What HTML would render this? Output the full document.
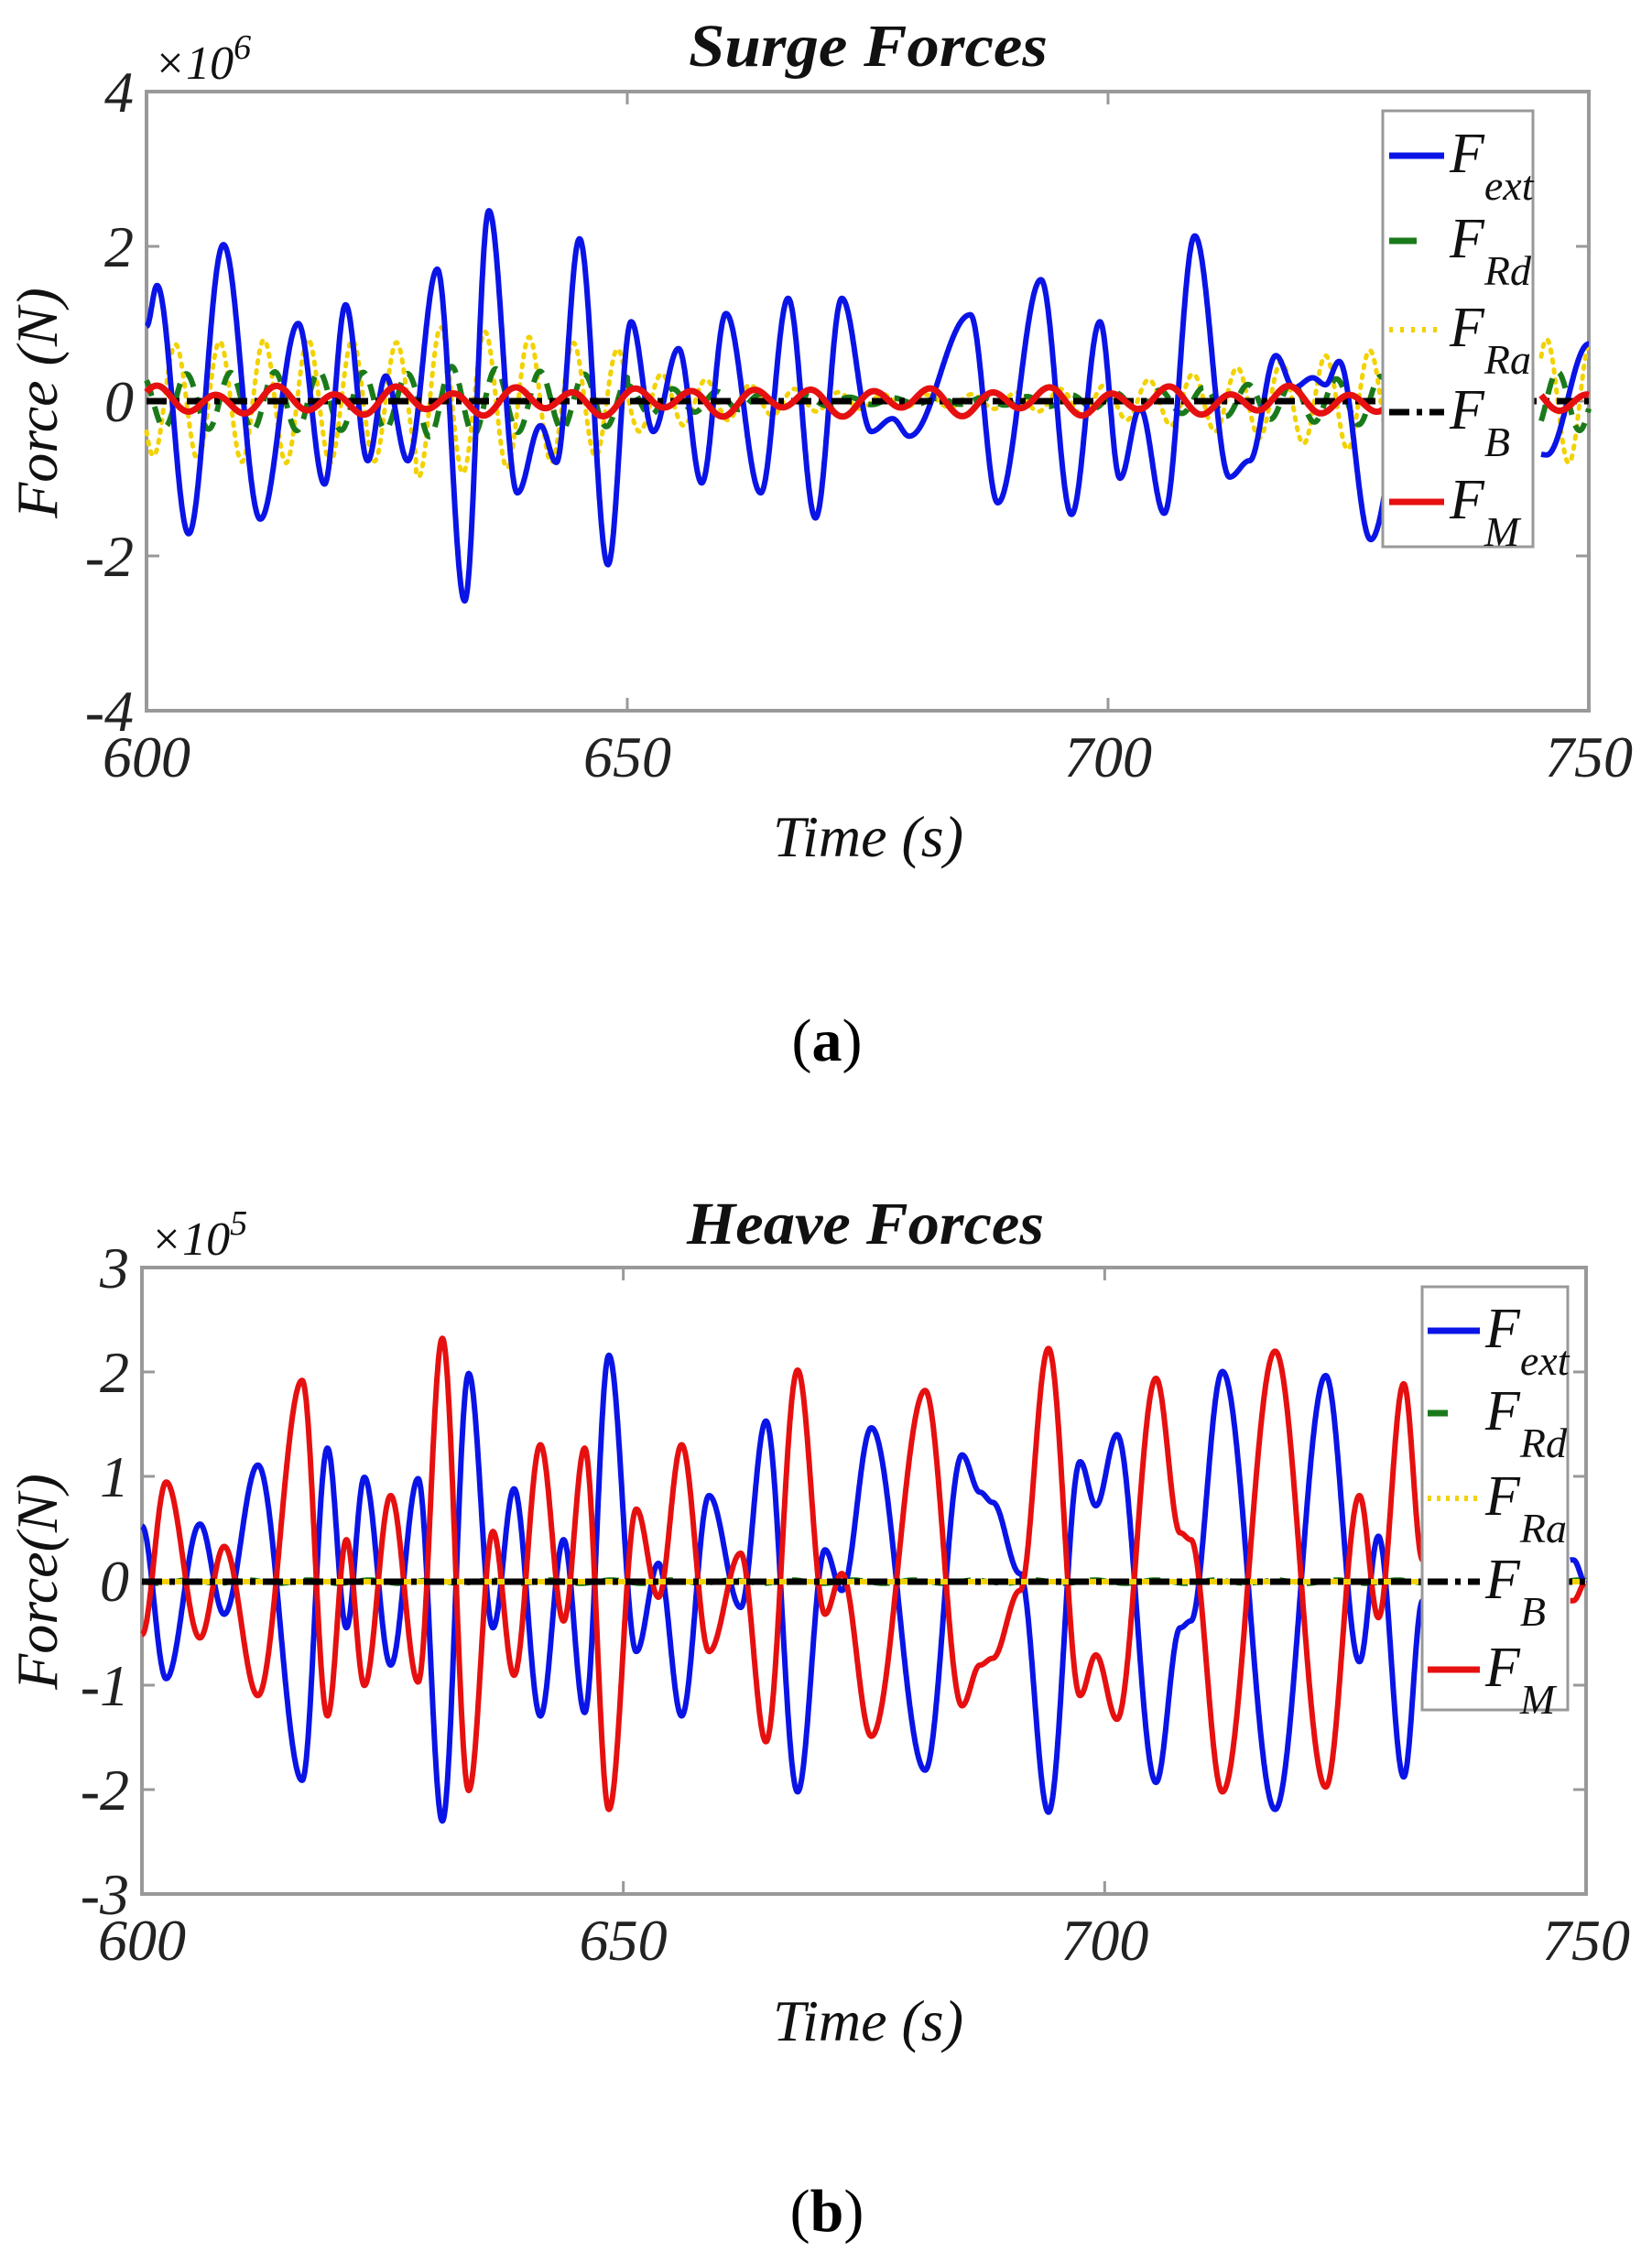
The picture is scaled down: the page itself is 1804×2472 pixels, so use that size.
<!DOCTYPE html>
<html><head><meta charset="utf-8"><style>
html,body{margin:0;padding:0;background:#fff;}
svg{display:block;}
text{font-family:"Liberation Serif",serif;}
</style></head><body>
<svg id="s" width="1804" height="2472" xmlns="http://www.w3.org/2000/svg">
<rect width="1804" height="2472" fill="#fff"/>
<g id="A"></g>
<g id="B"></g>
<g font-style="italic" fill="#111">
<text x="752" y="72" font-weight="bold" font-size="66" textLength="392" lengthAdjust="spacingAndGlyphs">Surge  Forces</text>
<text x="168" y="86" font-size="52">×10<tspan dy="-22" font-size="38">6</tspan></text>
<text x="948" y="935" text-anchor="middle" font-size="64">Time (s)</text>
<text transform="translate(62,440) rotate(-90)" text-anchor="middle" font-size="64">Force (N)</text>

<text x="750" y="1358" font-weight="bold" font-size="66" textLength="390" lengthAdjust="spacingAndGlyphs">Heave  Forces</text>
<text x="164" y="1370" font-size="52">×10<tspan dy="-22" font-size="38">5</tspan></text>
<text x="948" y="2228" text-anchor="middle" font-size="64">Time (s)</text>
<text transform="translate(62,1727) rotate(-90)" text-anchor="middle" font-size="64">Force(N)</text>
</g>
<text x="903" y="1158" text-anchor="middle" font-size="66" fill="#000">(<tspan font-weight="bold">a</tspan>)</text>
<text x="903" y="2436" text-anchor="middle" font-size="66" fill="#000">(<tspan font-weight="bold">b</tspan>)</text>
</svg>
<script>
var NS="http://www.w3.org/2000/svg";
function el(p,n,a,txt){var e=document.createElementNS(NS,n);for(var k in a)e.setAttribute(k,a[k]);if(txt!==undefined)e.textContent=txt;p.appendChild(e);return e;}
function cosInterp(pts,t){
  if(t<=pts[0][0])return pts[0][1];
  for(var i=0;i<pts.length-1;i++){var a=pts[i],b=pts[i+1];if(t<=b[0]){var s=(t-a[0])/(b[0]-a[0]);return a[1]+(b[1]-a[1])*(1-Math.cos(Math.PI*s))/2;}}
  return pts[pts.length-1][1];}
function axes(g,L,R,T,B,yt){
  el(g,"rect",{x:L,y:T,width:R-L,height:B-T,fill:"none",stroke:"#999",'stroke-width':4});
  for(var i=0;i<4;i++){var x=L+(R-L)*i/3;
    el(g,"line",{x1:x,y1:B,x2:x,y2:B-14,stroke:"#999",'stroke-width':3});
    el(g,"line",{x1:x,y1:T,x2:x,y2:T+14,stroke:"#999",'stroke-width':3});
    el(g,"text",{x:x,y:B+72,'text-anchor':"middle",'font-size':64,'font-style':"italic",fill:"#222"},String(600+50*i));}
  for(var j=0;j<yt.length;j++){var y=T+(B-T)*j/(yt.length-1);
    el(g,"line",{x1:L,y1:y,x2:L+14,y2:y,stroke:"#999",'stroke-width':3});
    el(g,"line",{x1:R,y1:y,x2:R-14,y2:y,stroke:"#999",'stroke-width':3});
    el(g,"text",{x:L-14,y:y+22,'text-anchor':"end",'font-size':64,'font-style':"italic",fill:"#222"},yt[j]);}
}
function path(g,f,L,R,zero,unit,attrs,t0,t1,gap){
  var d="";var n=0;
  for(var t=t0;t<=t1+1e-9;t+=0.05){
    if(gap&&t>gap[0]&&t<gap[1]){n=0;continue;}
    var x=L+(t-600)/150*(R-L);var y=zero-f(t)*unit;d+=(n?"L":"M")+x.toFixed(1)+","+y.toFixed(1);n++;}
  attrs.d=d;attrs.fill="none";attrs['stroke-linejoin']="round";el(g,"path",attrs);}
function conv(arr,x0,xw,z0,uy){return arr.map(function(p){return[600+(p[0]-x0)/xw*150,(z0-p[1])/uy];});}
function legend(g,x0,y0,x1,y1,ys,lx0,lx1,fx,items){
  el(g,"rect",{x:x0,y:y0,width:x1-x0,height:y1-y0,fill:"#fff",stroke:"#999",'stroke-width':3});
  for(var i=0;i<5;i++){var it=items[i];var y=ys[i];
    el(g,"line",Object.assign({x1:lx0,y1:y,x2:lx1,y2:y},it.a));
    var t=el(g,"text",{x:fx,y:y+18,'font-size':62,'font-style':"italic",fill:"#111"},"F");
    el(t,"tspan",{dy:30,'font-size':46},it.s);}
}
(function(){
var g=document.getElementById("A");var L=160,R=1735,T=100,B=776,zero=438,unit=84.5;
axes(g,L,R,T,B,["4","2","0","-2","-4"]);
var blueZ=[[138,560],[148,490],[178,915],[211,420],[246,890],[282,555],[307,830],[327,523],[348,790],[365,645],[386,790],[414,462],[440,1030],[463,362],[490,845],[512,730],[527,793],[549,410],[576,968],[598,552],[619,740],[643,598],[665,828],[688,538],[721,845],[747,512],[773,888],[798,512],[826,740],[846,718],[862,748],[920,540],[946,862],[987,480],[1016,882],[1043,552],[1062,820],[1081,700],[1104,880],[1133,405],[1166,818],[1185,790],[1210,610],[1227,665],[1245,648],[1257,660],[1270,620],[1300,925],[1340,600],[1400,700],[1467,780],[1507,590]];
var blue=conv(blueZ,138,1369,688,132.5);
var fb=function(t){return cosInterp(blue,t);};
var env=function(t){return 0.55+0.45*Math.sin((t-600)/150*Math.PI*2.3+0.8)+ (t>628&&t<650?0.3:0);};
var fy=function(t){return -0.8*env(t)*Math.sin(2*Math.PI*(t-600)/4.6+0.6);};
var fg=function(t){return 0.38*env(t)*Math.sin(2*Math.PI*(t-600)/4.6+2.2);};
var fr=function(t){return 0.14*Math.sin(2*Math.PI*(t-600)/6.2+0.5)+0.06*Math.sin(2*Math.PI*(t-600)/13+1);};
var gap=[729.5,745];
path(g,fy,L,R,zero,unit,{stroke:"#f2d200",'stroke-width':5,'stroke-dasharray':"3,8",'stroke-linecap':"round"},600,750,gap);
path(g,fg,L,R,zero,unit,{stroke:"#1a7a1a",'stroke-width':6,'stroke-dasharray':"18,12"},600,750,gap);
path(g,fb,L,R,zero,unit,{stroke:"#0a14e6",'stroke-width':6},600,750,gap);
el(g,"line",{x1:L,y1:zero,x2:R,y2:zero,stroke:"#000",'stroke-width':7,'stroke-dasharray':"22,8,6,8"});
path(g,fr,L,R,zero,unit,{stroke:"#e61010",'stroke-width':7},600,750,gap);
legend(g,1510,121,1674,597,[170,263,360,450,548],1517,1577,1583,[
 {a:{stroke:"#0a14e6",'stroke-width':7},s:"ext"},
 {a:{stroke:"#1a7a1a",'stroke-width':7,'stroke-dasharray':"30,100"},s:"Rd"},
 {a:{stroke:"#f2d200",'stroke-width':6,'stroke-dasharray':"4,8"},s:"Ra"},
 {a:{stroke:"#000",'stroke-width':7,'stroke-dasharray':"22,8,6,8"},s:"B"},
 {a:{stroke:"#e61010",'stroke-width':7},s:"M"}]);
})();
(function(){
var g=document.getElementById("B");var L=155,R=1732,T=1384,B=2068,zero=1727,unit=114;
axes(g,L,R,T,B,["3","2","1","0","-1","-2","-3"]);
var blueZ=[[135,490],[158,715],[190,487],[213,620],[245,400],[287,865],[311,375],[329,640],[346,418],[371,695],[397,420],[420,925],[445,265],[468,640],[488,435],[513,770],[535,510],[555,765],[578,238],[604,675],[625,545],[647,770],[673,445],[703,610],[727,335],[757,882],[783,525],[799,585],[827,345],[878,850],[913,385],[930,440],[942,455],[968,560],[995,912],[1025,395],[1040,460],[1060,355],[1097,868],[1120,640],[1130,630],[1160,262],[1210,908],[1258,268],[1290,690],[1308,505],[1332,860],[1350,600],[1493,540],[1505,575]];
var redZ=[[135,650],[158,425],[190,655],[213,520],[245,740],[287,275],[311,770],[329,510],[346,725],[371,445],[397,720],[420,213],[445,880],[468,498],[488,710],[513,370],[535,630],[555,375],[578,908],[604,465],[625,595],[647,370],[673,675],[703,530],[727,808],[757,260],[783,620],[799,560],[827,800],[878,290],[913,755],[930,695],[942,685],[968,585],[995,228],[1025,740],[1040,680],[1060,775],[1097,272],[1120,500],[1130,510],[1160,882],[1210,232],[1258,875],[1290,445],[1308,625],[1332,280],[1350,540],[1493,600],[1505,572]];
var blue=conv(blueZ,135,1370,572,154),red=conv(redZ,135,1370,572,154);
var gap=[733.5,748.3];
path(g,function(t){return 0.02*Math.sin(t);},L,R,zero,unit,{stroke:"#1a7a1a",'stroke-width':5,'stroke-dasharray':"18,12"},600,750,gap);
path(g,function(t){return cosInterp(blue,t);},L,R,zero,unit,{stroke:"#0a14e6",'stroke-width':6},600,750,gap);
path(g,function(t){return cosInterp(red,t);},L,R,zero,unit,{stroke:"#e61010",'stroke-width':6},600,750,gap);
el(g,"line",{x1:L,y1:zero,x2:R,y2:zero,stroke:"#f2d200",'stroke-width':6});
el(g,"line",{x1:L,y1:zero,x2:R,y2:zero,stroke:"#000",'stroke-width':7,'stroke-dasharray':"22,8,6,8"});
legend(g,1553,1405,1712,1867,[1453,1543,1636,1727,1823],1559,1616,1622,[
 {a:{stroke:"#0a14e6",'stroke-width':7},s:"ext"},
 {a:{stroke:"#1a7a1a",'stroke-width':7,'stroke-dasharray':"22,100"},s:"Rd"},
 {a:{stroke:"#f2d200",'stroke-width':6,'stroke-dasharray':"4,6"},s:"Ra"},
 {a:{stroke:"#000",'stroke-width':7,'stroke-dasharray':"22,8,6,8"},s:"B"},
 {a:{stroke:"#e61010",'stroke-width':7},s:"M"}]);
})();
</script>
</body></html>
